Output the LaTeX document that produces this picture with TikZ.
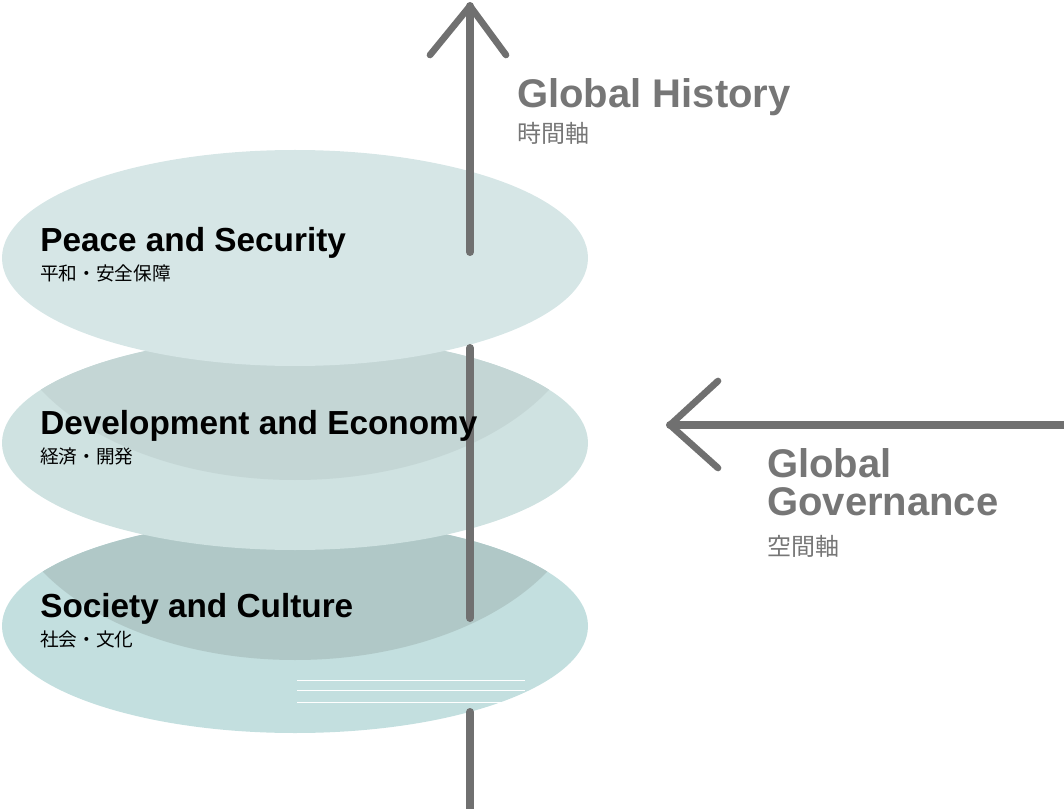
\documentclass[tikz,border=0pt]{standalone}
\usepackage{fontspec}
\setmainfont{Liberation Sans}
\newfontfamily\cjk{Noto Sans CJK JP}
\definecolor{axisgray}{HTML}{707070}
\definecolor{labgray}{HTML}{767676}
\definecolor{topfill}{HTML}{D6E6E6}
\definecolor{midfill}{HTML}{CFE2E1}
\definecolor{midshade}{HTML}{C4D6D5}
\definecolor{botfill}{HTML}{C3DFDF}
\definecolor{botshade}{HTML}{B0C8C7}
\begin{document}
\begin{tikzpicture}[x=0.75pt,y=-0.75pt,
  axis/.style={line width=6pt,color=axisgray,line cap=round},
  head/.style={line width=5pt,color=axisgray,line cap=round,line join=round},
  layer/.style={font=\bfseries\fontsize{25}{28}\selectfont,anchor=west,inner sep=0pt},
  sublayer/.style={font=\cjk\fontsize{14}{16}\selectfont,anchor=north west,inner sep=0pt},
  axlab/.style={font=\bfseries\fontsize{30}{31}\selectfont,color=labgray,anchor=west,inner sep=0pt,align=left},
  subaxlab/.style={font=\cjk\fontsize{18}{20}\selectfont,color=labgray,anchor=north west,inner sep=0pt}]
\useasboundingbox (0,0) rectangle (1064,809);
% bottom layer
\fill[botfill] (295,626) ellipse (293 and 107);
\begin{scope}
  \clip (295,626) ellipse (293 and 107);
  \fill[botshade] (295,480) ellipse (293 and 180);
\end{scope}
\draw[white,line width=0.6pt] (297,680) -- (525,680) (297,690) -- (525,690) (297,702) -- (525,702);
% middle layer
\fill[midfill] (295,443) ellipse (293 and 107);
\begin{scope}
  \clip (295,443) ellipse (293 and 107);
  \fill[midshade] (295,300) ellipse (293 and 180);
\end{scope}
% top layer
\fill[topfill] (295,258) ellipse (293 and 108);
% time axis
\coordinate (t0) at (470,809);
\coordinate (t1) at (470,712);
\coordinate (t2) at (470,618);
\coordinate (t3) at (470,348);
\coordinate (t4) at (470,252);
\coordinate (t5) at (470,6);
\draw[axis] (t0) -- (t1);
\draw[axis] (t2) -- (t3);
\draw[axis] (t4) -- (t5);
\draw[head] (430,55) -- (t5) -- (506,55);
% space axis
\coordinate (s0) at (1064,425);
\coordinate (s1) at (670,425);
\draw[axis] (s0) -- (s1);
\draw[head] (718,381) -- (s1) -- (718,468);
% labels
\node[layer] (peace) at (40,243) {Peace and Security};
\node[sublayer] (peacej) at (40,265) {平和・安全保障};
\node[layer] (devel) at (40,426) {Development and Economy};
\node[sublayer] (develj) at (40,448) {経済・開発};
\node[layer] (society) at (40,609) {Society and Culture};
\node[sublayer] (societyj) at (40,631) {社会・文化};
\node[axlab] (history) at (517,97) {Global History};
\node[subaxlab] (historyj) at (517,122) {時間軸};
\node[axlab,anchor=north west] (govern) at (767,448) {Global\\[-2pt]Governance};
\node[subaxlab] (governj) at (767,535) {空間軸};
\end{tikzpicture}
\end{document}
